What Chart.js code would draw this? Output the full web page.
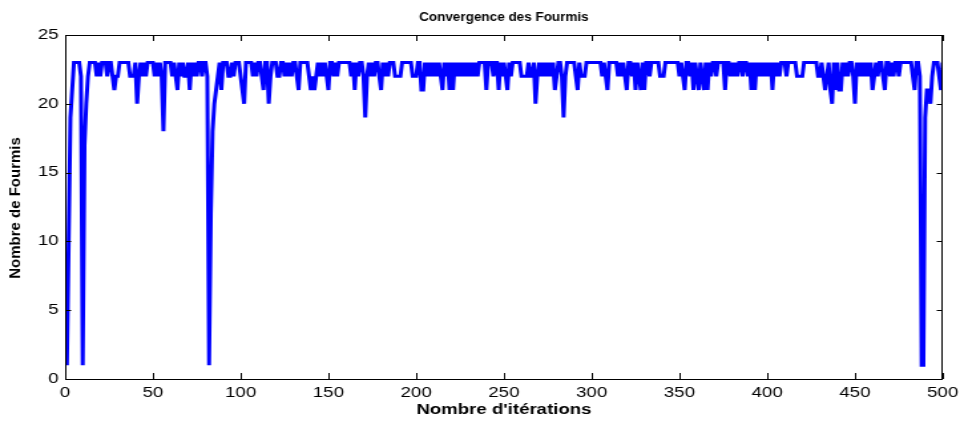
<!DOCTYPE html>
<html>
<head>
<meta charset="utf-8">
<script src="https://cdn.jsdelivr.net/npm/chart.js"></script>
<style>
html,body{margin:0;padding:0;background:#fff;overflow:hidden}
/* la figure d'origine est etiree horizontalement */
#wrap{width:722px;height:421px;transform:scaleX(1.3296);transform-origin:0 0}
</style>
</head>
<body>
<div id="wrap"><canvas id="fourmis"></canvas></div>
<script>
var ETIRE = 1.3296;
var titre = "Convergence des Fourmis";
var titreX = "Nombre d'itérations";
var titreY = "Nombre de Fourmis";

var xTicks = [0, 50, 100, 150, 200, 250, 300, 350, 400, 450, 500];
var yTicks = [0, 5, 10, 15, 20, 25];

// nombre de fourmis par iteration (1..500)
var fourmis = [
  1,10,19,21,23,23,23,23,22,1,
  17,20,22,23,23,23,23,22,23,22,
  23,23,23,22,23,23,22,21,22,22,
  23,23,23,23,23,23,22,22,22,23,
  20,22,23,22,23,22,23,23,23,23,
  22,23,22,23,22,18,23,23,23,23,
  22,23,22,21,23,22,23,22,22,23,
  21,23,22,23,22,23,23,22,23,23,
  22,1,12,18,20,21,22,23,21,23,
  23,23,22,22,23,22,23,23,23,22,
  21,20,23,23,23,23,22,23,22,23,
  23,22,21,23,23,20,22,23,23,23,
  22,22,23,23,22,23,22,23,22,23,
  23,22,21,23,23,23,23,23,22,21,
  22,21,22,23,22,23,22,23,22,21,
  23,23,22,23,22,23,23,23,23,23,
  23,23,22,23,21,23,22,23,23,22,
  19,22,23,22,23,22,23,23,22,21,
  23,22,23,22,23,23,23,22,22,22,
  22,23,23,23,23,23,23,22,22,22,
  23,23,21,21,23,22,23,22,23,22,
  23,22,23,22,21,23,22,23,21,23,
  21,23,22,23,22,23,22,23,22,23,
  22,23,22,23,22,23,23,23,23,21,
  23,23,23,22,23,23,21,23,22,23,
  22,21,23,22,23,23,23,23,23,22,
  22,22,22,23,22,22,23,20,22,23,
  22,23,22,23,22,23,22,23,21,22,
  23,23,22,19,22,23,23,23,23,23,
  22,21,23,22,22,22,23,23,23,23,
  23,23,23,23,23,22,23,22,21,23,
  23,23,23,23,22,23,22,23,22,21,
  23,23,22,23,21,23,22,21,23,21,
  23,23,22,23,23,23,23,23,22,22,
  22,23,23,23,23,23,23,23,23,22,
  23,22,21,23,23,22,23,21,23,22,
  21,23,22,21,23,21,23,22,23,23,
  22,23,23,23,23,21,23,23,22,23,
  22,23,22,23,23,22,23,23,22,23,
  21,23,21,23,22,23,22,23,22,23,
  22,23,21,23,22,23,22,23,23,23,
  22,23,23,23,23,23,22,22,22,22,
  23,23,23,23,23,23,23,23,22,22,
  23,22,21,22,23,21,20,23,21,23,
  21,21,23,22,23,22,23,23,22,20,
  23,22,23,22,23,22,23,22,23,21,
  22,23,22,23,23,22,21,23,23,22,
  23,22,23,23,22,23,23,23,23,23,
  23,23,22,21,23,23,22,1,1,19,
  21,21,20,22,23,23,23,22,21,23
];

var iterations = fourmis.map(function(v, i){ return i + 1; });

// cadre noir, graduations vers l'interieur et textes non etires, facon matlab
const boiteMatlab = {
  id: 'boiteMatlab',
  afterDatasetsDraw(chart) {
    const ctx = chart.ctx;
    const a = chart.chartArea;
    const sx = chart.scales.x, sy = chart.scales.y;
    ctx.save();
    ctx.strokeStyle = '#000';
    ctx.lineWidth = 1;
    ctx.strokeRect(a.left + 0.5, a.top + 0.5, a.right - a.left - 1, a.bottom - a.top);
    ctx.beginPath();
    xTicks.forEach(function(v){
      var px = Math.round(sx.getPixelForValue(v)) + 0.5;
      ctx.moveTo(px, a.bottom); ctx.lineTo(px, a.bottom - 6);
      ctx.moveTo(px, a.top); ctx.lineTo(px, a.top + 6);
    });
    yTicks.forEach(function(v){
      var py = Math.round(sy.getPixelForValue(v)) + 0.5;
      ctx.moveTo(a.left, py); ctx.lineTo(a.left + 4.5, py);
      ctx.moveTo(a.right, py); ctx.lineTo(a.right - 4.5, py);
    });
    ctx.stroke();

    ctx.fillStyle = '#000';
    ctx.textAlign = 'center';
    ctx.textBaseline = 'middle';

    // titre
    ctx.save();
    ctx.translate((a.left + a.right) / 2, 17);
    ctx.scale(1 / ETIRE, 1);
    ctx.font = "bold 13.5px 'Liberation Sans', Arial";
    ctx.fillText(titre, 0, 0);
    ctx.restore();

    // titre axe y
    ctx.save();
    ctx.translate(16 / ETIRE, (a.top + a.bottom) / 2 + 1);
    ctx.scale(1 / ETIRE, 1);
    ctx.rotate(-Math.PI / 2);
    ctx.font = "bold 15px 'Liberation Sans', Arial";
    ctx.fillText(titreY, 0, 0);
    ctx.restore();

    ctx.restore();
  }
};

var ctx = document.getElementById("fourmis").getContext("2d");

new Chart(ctx, {
  type: "line",
  data: {
    labels: iterations,
    datasets: [{
      data: fourmis,
      borderColor: "#0000ff",
      borderWidth: 3,
      pointRadius: 0,
      tension: 0,
      fill: false
    }]
  },
  options: {
    responsive: true,
    maintainAspectRatio: false,
    animation: false,
    layout: { padding: { left: 0, right: 13, top: 35, bottom: 0 } },
    plugins: {
      legend: { display: false },
      tooltip: { enabled: false },
      title: { display: false }
    },
    scales: {
      x: {
        type: "linear",
        min: 0,
        max: 500,
        afterBuildTicks: function(s){ s.ticks = xTicks.map(function(v){ return {value: v}; }); },
        afterFit: function(s){ s.height = 42; s.paddingLeft = 0; s.paddingRight = 0; },
        grid: { display: false, drawTicks: false },
        border: { display: false },
        ticks: {
          color: "#000",
          padding: 6,
          maxRotation: 0,
          autoSkip: false,
          font: { family: "'Liberation Sans', Arial", size: 14 }
        },
        title: {
          display: true,
          text: titreX,
          color: "#000",
          font: { family: "'Liberation Sans', Arial", size: 14, weight: "bold" },
          padding: { top: 0, bottom: 2.6 }
        }
      },
      y: {
        min: 0,
        max: 25,
        afterBuildTicks: function(s){ s.ticks = yTicks.map(function(v){ return {value: v}; }); },
        afterFit: function(s){ s.width = 49; s.paddingTop = 0; s.paddingBottom = 0; },
        grid: { display: false, drawTicks: false },
        border: { display: false },
        ticks: {
          color: "#000",
          padding: 5,
          font: { family: "'Liberation Sans', Arial", size: 14 }
        }
      }
    }
  },
  plugins: [boiteMatlab]
});
</script>
</body>
</html>
